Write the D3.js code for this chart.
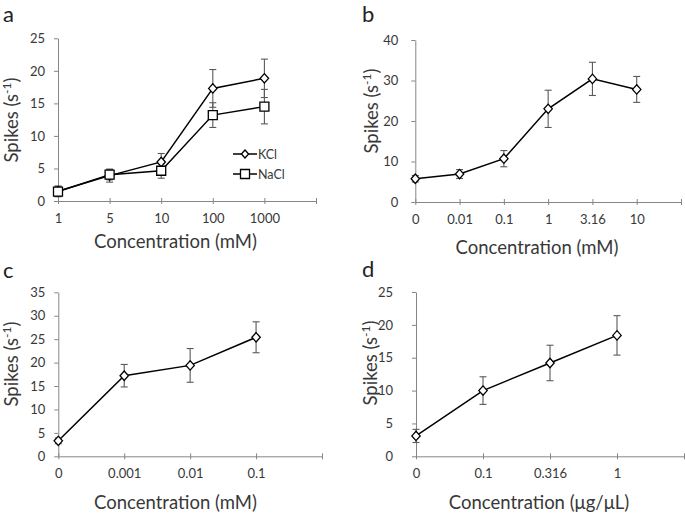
<!DOCTYPE html>
<html>
<head>
<meta charset="utf-8">
<script src="https://cdn.jsdelivr.net/npm/d3@7"></script>
<style>
  html, body { margin: 0; padding: 0; background: #fff; }
  svg { display: block; font-family: Lato, "Open Sans", sans-serif; }
</style>
</head>
<body>
<svg id="chart" width="685" height="514"></svg>
<script>
// ---------- DATA ----------
// Panel a
const catsA = ["1", "5", "10", "100", "1000"];
const kclMean = [1.5, 3.9, 6.0, 17.3, 18.85];
const kclErr  = [0.8, 1.0, 1.3, 2.9, 2.95];
const naclMean = [1.45, 4.05, 4.65, 13.2, 14.5];
const naclErr  = [0.8, 0.8, 1.15, 1.9, 2.65];
const yTicksA = [0, 5, 10, 15, 20, 25];
// Panel b
const catsB = ["0", "0.01", "0.1", "1", "3.16", "10"];
const meanB = [5.75, 6.9, 10.7, 23.0, 30.4, 27.8];
const errB  = [0.8, 1.1, 2.0, 4.6, 4.1, 3.2];
const yTicksB = [0, 10, 20, 30, 40];
// Panel c
const catsC = ["0", "0.001", "0.01", "0.1"];
const meanC = [3.3, 17.2, 19.4, 25.4];
const errC  = [0.6, 2.4, 3.6, 3.3];
const yTicksC = [0, 5, 10, 15, 20, 25, 30, 35];
// Panel d
const catsD = ["0", "0.1", "0.316", "1"];
const meanD = [3.1, 10.0, 14.2, 18.4];
const errD  = [1.0, 2.1, 2.7, 3.0];
const yTicksD = [0, 5, 10, 15, 20, 25];

// ---------- STYLE ----------
const AXIS = "#868686", TEXT = "#383838", ERR = "#595959";
const svg = d3.select("#chart");

function panel(cfg) {
  const g = svg.append("g");
  const domain = cfg.cats.concat(["__end"]);
  const x = d3.scalePoint().domain(domain).range([cfg.x0, cfg.x1]);
  const y = d3.scaleLinear().domain([0, cfg.yMax]).range([cfg.yBottom, cfg.yTop]);

  // y axis
  const ya = g.append("g").attr("transform", `translate(${cfg.x0},0)`)
    .call(d3.axisLeft(y).tickValues(cfg.yTicks).tickSizeInner(4).tickSizeOuter(0).tickPadding(cfg.yPad));
  // x axis
  const xa = g.append("g").attr("transform", `translate(0,${cfg.yBottom})`)
    .call(d3.axisBottom(x).tickSizeInner(3).tickSizeOuter(0)
      .tickFormat(d => d === "__end" ? "" : d));
  [ya, xa].forEach(a => {
    a.select(".domain").attr("stroke", AXIS).attr("stroke-width", 1);
    a.selectAll(".tick line").attr("stroke", AXIS).attr("stroke-width", 1);
    a.selectAll("text").attr("fill", TEXT).style("font-size", "13px").style("font-family", "Lato");
  });
  xa.selectAll(".tick line").attr("y1", -3).attr("y2", 3);
  xa.selectAll(".tick text").attr("y", 22).attr("dy", null);

  // axis titles
  g.append("text").attr("x", cfg.titleX).attr("y", cfg.titleY)
    .attr("text-anchor", "middle").attr("fill", TEXT)
    .style("font-size", "18.5px").text(cfg.xTitle);
  const yl = g.append("text")
    .attr("transform", `translate(${cfg.ylX},${cfg.ylY}) rotate(-90)`)
    .attr("text-anchor", "middle").attr("fill", TEXT).style("font-size", "18.5px");
  yl.append("tspan").text("Spikes (s");
  yl.append("tspan").attr("dy", -7).style("font-size", "12px").text("-1");
  yl.append("tspan").attr("dy", 7).text(")");

  // panel letter
  g.append("text").attr("x", cfg.letterX).attr("y", cfg.letterY)
    .attr("fill", "#222").style("font-size", "22px").text(cfg.letter);

  const line = d3.line().x((d, i) => x(cfg.cats[i])).y(d => y(d));

  cfg.series.forEach(s => {
    g.append("path").datum(s.mean).attr("d", line)
      .attr("fill", "none").attr("stroke", "#000").attr("stroke-width", 1.5);
  });
  cfg.series.forEach(s => {
    const eb = g.append("g").attr("stroke", ERR).attr("stroke-width", 1.1);
    s.mean.forEach((m, i) => {
      const cx = x(cfg.cats[i]);
      const lo = y(m - s.err[i]), hi = y(m + s.err[i]);
      eb.append("line").attr("x1", cx).attr("x2", cx).attr("y1", lo).attr("y2", hi);
      eb.append("line").attr("x1", cx - 3.5).attr("x2", cx + 3.5).attr("y1", lo).attr("y2", lo);
      eb.append("line").attr("x1", cx - 3.5).attr("x2", cx + 3.5).attr("y1", hi).attr("y2", hi);
    });
  });
  cfg.series.forEach(s => {
    g.selectAll(null).data(s.mean).enter().append("path")
      .attr("transform", (d, i) => `translate(${x(cfg.cats[i])},${y(d)})`)
      .attr("d", s.shape === "square" ? "M-4.5,-4.5H4.5V4.5H-4.5Z" : "M0,-4.7L4.2,0L0,4.7L-4.2,0Z")
      .attr("fill", "#fff").attr("stroke", "#000").attr("stroke-width", 1.3);
  });
  return { g, x, y };
}

const pa = panel({
  letter: "a", letterX: 3, letterY: 22,
  cats: catsA, yMax: 25, yTicks: yTicksA,
  x0: 58, x1: 316, yTop: 38.3, yBottom: 201, yPad: 9,
  xTitle: "Concentration (mM)", titleX: 175.5, titleY: 248,
  ylX: 18, ylY: 120,
  series: [
    { mean: kclMean, err: kclErr, shape: "diamond" },
    { mean: naclMean, err: naclErr, shape: "square" }
  ]
});
// legend
const legendNames = ["KCl", "NaCl"];
const legendShapes = ["M0,-4L3.6,0L0,4L-3.6,0Z", "M-4.5,-4.5H4.5V4.5H-4.5Z"];
legendNames.forEach((nm, i) => {
  const ly = 154 + i * 20;
  const lg = pa.g.append("g");
  lg.append("line").attr("x1", 233).attr("x2", 257).attr("y1", ly).attr("y2", ly)
    .attr("stroke", "#000").attr("stroke-width", 1.5);
  lg.append("path").attr("transform", `translate(245,${ly})`).attr("d", legendShapes[i])
    .attr("fill", "#fff").attr("stroke", "#000").attr("stroke-width", 1.3);
  lg.append("text").attr("x", 258).attr("y", ly + 4.5).attr("fill", TEXT)
    .style("font-size", "12.5px").text(nm);
});

panel({
  letter: "b", letterX: 362, letterY: 22,
  cats: catsB, yMax: 40, yTicks: yTicksB,
  x0: 415.3, x1: 681, yTop: 40, yBottom: 202, yPad: 13,
  xTitle: "Concentration (mM)", titleX: 537, titleY: 254,
  ylX: 378, ylY: 111,
  series: [{ mean: meanB, err: errB, shape: "diamond" }]
});

panel({
  letter: "c", letterX: 3, letterY: 278,
  cats: catsC, yMax: 35, yTicks: yTicksC,
  x0: 58.3, x1: 322, yTop: 292.3, yBottom: 456.3, yPad: 9,
  xTitle: "Concentration (mM)", titleX: 175.5, titleY: 509,
  ylX: 18, ylY: 364,
  series: [{ mean: meanC, err: errC, shape: "diamond" }]
});

panel({
  letter: "d", letterX: 362, letterY: 277,
  cats: catsD, yMax: 25, yTicks: yTicksD,
  x0: 416, x1: 684, yTop: 292, yBottom: 456.3, yPad: 19,
  xTitle: "Concentration (μg/μL)", titleX: 539, titleY: 509,
  ylX: 377, ylY: 363,
  series: [{ mean: meanD, err: errD, shape: "diamond" }]
});
</script>
</body>
</html>
